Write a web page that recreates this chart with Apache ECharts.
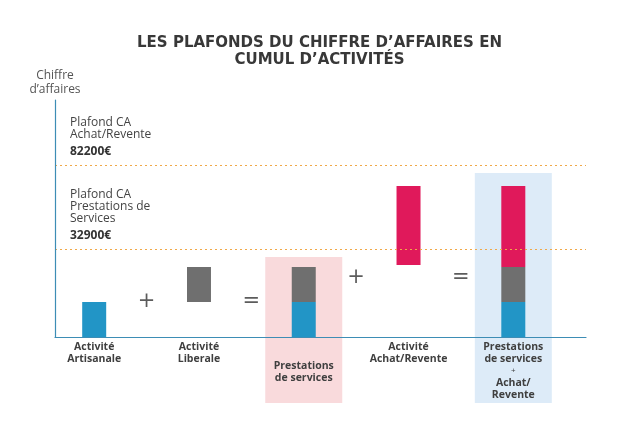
<!DOCTYPE html>
<html>
<head>
<meta charset="utf-8">
<script src="https://cdn.jsdelivr.net/npm/echarts@6/dist/echarts.min.js"></script>
<style>
  html, body { margin: 0; padding: 0; background: #fff; }
  #chart { width: 639px; height: 436px; }
</style>
</head>
<body>
<div id="chart"></div>
<script>
// Schematic chart: bar heights are illustrative units, not euros.
const categories = [
  'Activité\nArtisanale', '', 'Activité\nLiberale', '', 'Prestations\nde services',
  '', 'Activité\nAchat/Revente', '', 'Prestations\nde services\n+\nAchat/\nRevente',
];
const baseVals       = [0, null, 35, null, 0, null, 72, null, 0];
const artisanaleVals = [35, null, null, null, 35, null, null, null, 35];
const liberaleVals   = [null, null, 35, null, 35, null, null, null, 35];
const achatVals      = [null, null, null, null, null, null, 79, null, 81];

const operators      = ['+', '=', '+', '='];
const operatorSlots  = [1, 3, 5, 7];
const operatorLevels = [35, 35, 59, 59];

const highlightTop    = [null, null, null, null, 80, null, null, null, 164];
const highlightBottom = [null, null, null, null, -66, null, null, null, -66];

const plafondNames   = ['Plafond CA\nAchat/Revente', 'Plafond CA\nPrestations de\nServices'];
const plafondAmounts = ['82200€', '32900€'];
const plafondLevels  = [172, 88];

const FONT = '"Open Sans", sans-serif';
const AXIS_COLOR = '#3d8db5';
const HL_COLORS = { 4: '#f9dadc', 8: '#ddebf8' };

const chart = echarts.init(document.getElementById('chart'));

function hlData(vals) {
  return vals.map((v, i) => v == null ? null : { value: v, itemStyle: { color: HL_COLORS[i] } });
}

function catLabel(value, idx) {
  if (idx === 4) return '{sp| }\n' + value.split('\n').map(s => '{b|' + s + '}').join('\n');
  return value.split('\n').map(s => s === '+' ? '{s|+}' : '{b|' + s + '}').join('\n');
}

function barSeries(name, vals, color) {
  return {
    name, type: 'bar', xAxisIndex: 1, yAxisIndex: 1, stack: 'cumul',
    barWidth: 24, z: 3, silent: true,
    itemStyle: { color },
    data: vals,
  };
}

function hlSeries(name, vals) {
  return {
    name, type: 'bar', xAxisIndex: 2, yAxisIndex: 2, stack: 'hl',
    barWidth: 77, z: 1, silent: true, clip: false, data: hlData(vals),
  };
}

const hiddenAxis = {
  axisLine: { show: false }, axisTick: { show: false }, axisLabel: { show: false }, splitLine: { show: false },
};

const option = {
  animation: false,
  textStyle: { fontFamily: FONT },
  title: {
    text: 'LES PLAFONDS DU CHIFFRE D\u2019AFFAIRES EN\nCUMUL D\u2019ACTIVITÉS',
    left: 'center', top: 30,
    textStyle: { fontFamily: '"DejaVu Sans", sans-serif', fontSize: 15, fontWeight: 'bold', color: '#383838', lineHeight: 17 },
  },
  grid: [
    { left: 55, right: 53, top: 100, bottom: 99, outerBoundsMode: 'none' },
    { left: 68, right: 99.5, top: 100, bottom: 99, outerBoundsMode: 'none' },
    { left: 68, right: 99.5, top: 100, bottom: 0, outerBoundsMode: 'none' },
  ],
  xAxis: [
    {
      type: 'value', gridIndex: 0, min: 0, max: 1, z: 5,
      axisLine: { show: true, lineStyle: { color: AXIS_COLOR, width: 1.2 } },
      axisTick: { show: false }, axisLabel: { show: false }, splitLine: { show: false },
    },
    {
      type: 'category', gridIndex: 1, data: categories, z: 6,
      axisLine: { show: false }, axisTick: { show: false },
      axisLabel: {
        margin: 4, interval: 0, formatter: catLabel,
        rich: {
          b: { fontFamily: FONT, fontSize: 10.5, fontWeight: 'bold', color: '#3f3f3f', lineHeight: 12 },
          s: { fontFamily: FONT, fontSize: 8, color: '#3f3f3f', lineHeight: 12 },
          sp: { fontSize: 10, lineHeight: 19 },
        },
      },
    },
    { type: 'category', gridIndex: 2, data: categories, ...hiddenAxis },
  ],
  yAxis: [
    {
      type: 'value', gridIndex: 0, min: 0, max: 237, z: 5,
      name: 'Chiffre\nd\u2019affaires', nameLocation: 'end', nameGap: 3,
      nameTextStyle: { fontFamily: FONT, fontSize: 12, color: '#555', lineHeight: 14, align: 'center' },
      axisLine: { show: true, lineStyle: { color: AXIS_COLOR, width: 1.2 } },
      axisTick: { show: false }, axisLabel: { show: false }, splitLine: { show: false },
    },
    { type: 'value', gridIndex: 1, min: 0, max: 237, ...hiddenAxis },
    { type: 'value', gridIndex: 2, min: -99, max: 237, ...hiddenAxis },
  ],
  series: [
    hlSeries('hlBottom', highlightBottom),
    hlSeries('hlTop', highlightTop),
    barSeries('base', baseVals, 'rgba(0,0,0,0)'),
    barSeries('Artisanale', artisanaleVals, '#2295c6'),
    barSeries('Liberale', liberaleVals, '#6f6f6f'),
    barSeries('Achat/Revente', achatVals, '#e0195b'),
    {
      name: 'operators', type: 'scatter', xAxisIndex: 1, yAxisIndex: 1,
      symbolSize: 0, z: 4, silent: true,
      data: operatorSlots.map((s, i) => [s, operatorLevels[i]]),
      label: {
        show: true, position: 'inside',
        formatter: p => operators[p.dataIndex],
        fontFamily: '"DejaVu Sans", sans-serif', fontSize: 21, color: '#333',
      },
    },
    {
      name: 'plafonds', type: 'line', xAxisIndex: 0, yAxisIndex: 0, z: 10,
      data: [], silent: true,
      markLine: {
        silent: true, symbol: ['none', 'none'],
        lineStyle: { color: '#f0a848', type: [2, 3], width: 1, opacity: 1 },
        label: {
          show: true, position: 'insideStartTop', distance: [15, 2],
          rich: {
            n: { fontFamily: FONT, fontSize: 12, color: '#444', lineHeight: 12 },
            v: { fontFamily: FONT, fontSize: 12, fontWeight: 'bold', color: '#333', lineHeight: 22 },
          },
        },
        data: plafondLevels.map((lv, i) => ({
          yAxis: lv,
          label: {
            formatter: plafondNames[i].split('\n').map(s => '{n|' + s + '}').join('\n') +
              '\n{v|' + plafondAmounts[i] + '}',
          },
        })),
      },
    },
  ],
};

chart.setOption(option);
</script>
</body>
</html>
